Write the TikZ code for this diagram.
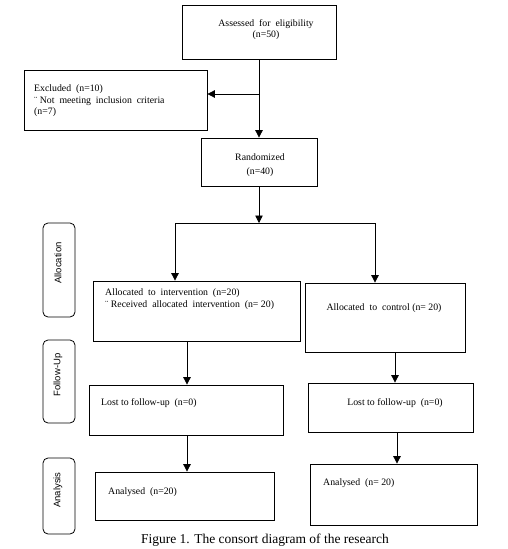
\documentclass[tikz,border=0pt]{standalone}
\usepackage{fontspec}
\setmainfont{Liberation Serif}
\newfontfamily\labfont{Liberation Sans}
\usetikzlibrary{arrows.meta}
\begin{document}
\begin{tikzpicture}[x=1pt,y=-1pt,
  box/.style={draw=black, line width=0.8pt, rectangle, inner sep=0pt},
  side/.style={draw=black, line width=0.8pt, rectangle, rounded corners=5pt, inner sep=0pt, minimum width=32pt},
  txt/.style={inner sep=0pt, font=\fontsize{9.8}{11.5}\selectfont},
  sidetxt/.style={inner sep=0pt, rotate=90, font=\labfont\fontsize{9.5}{11}\selectfont},
  arr/.style={-{Triangle[width=7.5pt,length=7.5pt]}, line width=0.8pt},
  ln/.style={line width=0.8pt}]
\useasboundingbox (0,0) rectangle (507,549);
\fill[white] (0,0) rectangle (507,549);

% boxes
\node[box, minimum width=154pt, minimum height=54pt] (assess) at (259,32) {};
\node[box, minimum width=183pt, minimum height=60pt] (excl) at (115.5,100) {};
\node[box, minimum width=116pt, minimum height=48pt] (rand) at (259,162) {};
\node[box, minimum width=207pt, minimum height=60pt] (interv) at (196.5,311) {};
\node[box, minimum width=160pt, minimum height=69pt] (ctrl) at (385,317.5) {};
\node[box, minimum width=194pt, minimum height=50pt] (lostL) at (186,410) {};
\node[box, minimum width=165pt, minimum height=49pt] (lostR) at (390.5,407.5) {};
\node[box, minimum width=179pt, minimum height=48pt] (anaL) at (184.5,496) {};
\node[box, minimum width=167pt, minimum height=61pt] (anaR) at (393.5,494.5) {};

% side labels
\node[side, minimum height=94pt] (alloc) at (59,270) {};
\node[side, minimum height=83pt] (follow) at (59,381.5) {};
\node[side, minimum height=76pt] (analysis) at (59,496) {};
\node[sidetxt] (alloct) at (58,263) {Allocation};
\node[sidetxt] (followt) at (58,375) {Follow-Up};
\node[sidetxt] (analysist) at (58,490) {Analysis};

% texts
\node[txt, align=center] (assesst) at (266,29.5) {Assessed~ for~ eligibility\\(n=50)};
\node[txt, align=left, anchor=west] (exclt) at (34,101) {Excluded~ (n=10)\\¨ Not~ meeting~ inclusion~ criteria\\(n=7)};
\node[txt, align=center] (randt) at (260,165) {Randomized\\[2pt](n=40)};
\node[txt, align=left, anchor=west] (intervt) at (105,299) {Allocated~ to~ intervention~ (n=20)\\¨ Received~ allocated~ intervention~ (n=~20)};
\node[txt] (ctrlt) at (384,308) {Allocated~ to~ control (n=~20)};
\node[txt, anchor=west] (lostLt) at (101,403) {Lost to follow-up~ (n=0)};
\node[txt] (lostRt) at (395,403) {Lost to follow-up~ (n=0)};
\node[txt, anchor=west] (anaLt) at (108,492) {Analysed~ (n=20)};
\node[txt, anchor=west] (anaRt) at (323,483) {Analysed~ (n=~20)};

% caption
\node[inner sep=0pt, font=\fontsize{13.5}{16}\selectfont] (cap) at (265,540) {Figure 1. The consort diagram of the research};

% connectors
\coordinate (br) at (259,94);
\draw[ln] (assess.south) -- (br);
\draw[arr] (br) -- (rand.north);
\draw[arr] (br) -- (excl.east |- br);
\coordinate (sp) at (259,223);
\draw[arr] (rand.south) -- (sp);
\coordinate (spL) at (175,223);
\coordinate (spR) at (375,223);
\draw[ln] (spL) -- (spR);
\draw[arr] (spL) -- (spL |- interv.north);
\draw[arr] (spR) -- (spR |- ctrl.north);
\coordinate (xL) at (187,0);
\coordinate (xR) at (395,0);
\coordinate (xR2) at (397,0);
\draw[arr] (xL |- interv.south) -- (xL |- lostL.north);
\draw[arr] (xR |- ctrl.south) -- (xR |- lostR.north);
\draw[arr] (xL |- lostL.south) -- (xL |- anaL.north);
\draw[arr] (xR2 |- lostR.south) -- (xR2 |- anaR.north);
\end{tikzpicture}
\end{document}
